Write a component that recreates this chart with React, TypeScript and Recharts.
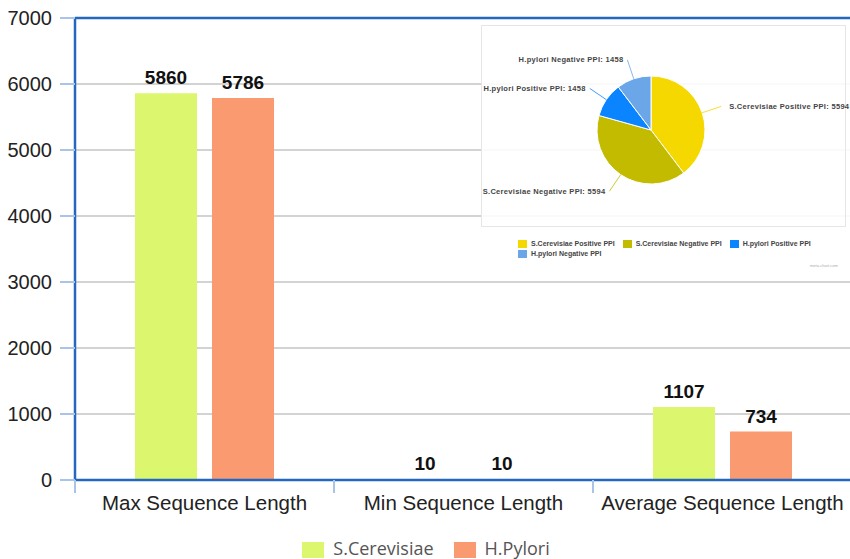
import React from 'react';
import {
  BarChart,
  Bar,
  XAxis,
  YAxis,
  CartesianGrid,
  ReferenceLine,
  LabelList,
  Legend,
  PieChart,
  Pie,
  Cell,
} from 'recharts';

// Bar chart data
const categories = ['Max Sequence Length', 'Min Sequence Length', 'Average Sequence Length'];
const cerevisiaeValues = [5860, 10, 1107];
const pyloriValues = [5786, 10, 734];
const yTicks = [0, 1000, 2000, 3000, 4000, 5000, 6000, 7000];
const seriesNames = ['S.Cerevisiae', 'H.Pylori'];
const seriesColors = ['#DCF76E', '#F99A70'];

// Inset pie data
const pieNames = [
  'S.Cerevisiae Positive PPI',
  'S.Cerevisiae Negative PPI',
  'H.pylori Positive PPI',
  'H.pylori Negative PPI',
];
const pieValues = [5594, 5594, 1458, 1458];
const pieColors = ['#F5D800', '#C3BB00', '#0A84FF', '#6AA6E8'];

const barData = categories.map((name, i) => ({
  name,
  cer: cerevisiaeValues[i],
  pyl: pyloriValues[i],
}));
const pieData = pieNames.map((name, i) => ({ name, value: pieValues[i] }));

const FRAME_BLUE = '#2467C0';
const TICK_BLUE = '#A9C4E6';
const SANS = '"Liberation Sans", Arial, sans-serif';

const CategoryTick = (props: any) => {
  const { x, y, payload } = props;
  const half =
    payload.offset ?? (props.width ? props.width / (2 * categories.length) : 0);
  const left = payload.coordinate - half;
  return (
    <g>
      <line x1={left} x2={left} y1={y} y2={y + 13} stroke={TICK_BLUE} strokeWidth={2} />
      <text
        x={x}
        y={y + 30}
        textAnchor="middle"
        fontSize={20.5}
        fill="#222"
        fontFamily={SANS}
      >
        {payload.value}
      </text>
    </g>
  );
};

const MainLegend = () => (
  <div
    style={{
      display: 'flex',
      justifyContent: 'center',
      alignItems: 'flex-start',
      height: 34,
      paddingTop: 14,
      boxSizing: 'border-box',
      fontFamily: '"Open Sans", sans-serif',
      fontSize: 18,
      lineHeight: '18px',
      color: '#555',
    }}
  >
    {seriesNames.map((n, i) => (
      <div
        key={n}
        style={{ display: 'flex', alignItems: 'flex-start', marginRight: i === 0 ? 20 : 0 }}
      >
        <span
          style={{
            width: 22,
            height: 16,
            marginTop: 3,
            background: seriesColors[i],
            display: 'inline-block',
            marginRight: 9,
          }}
        />
        <span>{n}</span>
      </div>
    ))}
  </div>
);

const RAD = Math.PI / 180;
const renderPieLabel = (p: any) => {
  const { cx, cy, midAngle, outerRadius, index, value } = p;
  const cos = Math.cos(-midAngle * RAD);
  const sin = Math.sin(-midAngle * RAD);
  const sx = cx + outerRadius * cos;
  const sy = cy + outerRadius * sin;
  const ex = cx + (outerRadius + 20) * cos;
  const ey = cy + (outerRadius + 20) * sin;
  const right = cos >= 0;
  return (
    <g>
      <path
        d={`M${sx},${sy}L${ex},${ey}`}
        stroke={pieColors[index]}
        fill="none"
        strokeWidth={0.8}
      />
      <text
        x={ex + (right ? 8 : -4)}
        y={ey}
        textAnchor={right ? 'start' : 'end'}
        dominantBaseline="central"
        fontSize={7.5}
        fontWeight="bold"
        letterSpacing={0.3}
        fill="#444"
        fontFamily={SANS}
      >
        {`${pieNames[index]}: ${value}`}
      </text>
    </g>
  );
};

const PieLegend = () => (
  <div
    style={{
      display: 'flex',
      flexWrap: 'wrap',
      columnGap: 8,
      rowGap: 1,
      width: 310,
      fontFamily: SANS,
      fontSize: 7,
      fontWeight: 'bold',
      lineHeight: '9px',
      color: '#444',
    }}
  >
    {pieNames.map((n, i) => (
      <div key={n} style={{ display: 'flex', alignItems: 'center' }}>
        <span
          style={{
            width: 9,
            height: 8,
            background: pieColors[i],
            display: 'inline-block',
            marginRight: 4,
          }}
        />
        <span>{n}</span>
      </div>
    ))}
  </div>
);

export default function App() {
  return (
    <div
      style={{
        position: 'absolute',
        left: 0,
        top: 0,
        width: 850,
        height: 559,
        overflow: 'hidden',
        background: '#fff',
      }}
    >
      <BarChart
        width={860}
        height={559}
        data={barData}
        margin={{ top: 18, right: 8, left: 0, bottom: 0 }}
        barSize={62}
        barGap={15}
      >
        <CartesianGrid vertical={false} stroke="#c4c4c4" strokeWidth={1.5} />
        <XAxis
          dataKey="name"
          height={45}
          tickSize={0}
          tickMargin={0}
          interval={0}
          axisLine={{ stroke: FRAME_BLUE, strokeWidth: 2.5 }}
          tickLine={false}
          tick={<CategoryTick />}
        />
        <YAxis
          domain={[0, 7000]}
          ticks={yTicks}
          interval={0}
          width={75}
          tickSize={15}
          tickMargin={8}
          axisLine={{ stroke: FRAME_BLUE, strokeWidth: 2.5 }}
          tickLine={{ stroke: TICK_BLUE, strokeWidth: 2 }}
          tick={{ fontSize: 20, fill: '#222', fontFamily: SANS }}
        />
        <ReferenceLine y={7000} stroke={FRAME_BLUE} strokeWidth={2.5} />
        <Legend verticalAlign="bottom" content={<MainLegend />} />
        <Bar dataKey="cer" name={seriesNames[0]} fill={seriesColors[0]} isAnimationActive={false}>
          <LabelList
            dataKey="cer"
            position="top"
            offset={9}
            style={{ fontSize: 19, fontWeight: 'bold', fill: '#111', fontFamily: SANS }}
          />
        </Bar>
        <Bar dataKey="pyl" name={seriesNames[1]} fill={seriesColors[1]} isAnimationActive={false}>
          <LabelList
            dataKey="pyl"
            position="top"
            offset={9}
            style={{ fontSize: 19, fontWeight: 'bold', fill: '#111', fontFamily: SANS }}
          />
        </Bar>
      </BarChart>

      <div
        style={{
          position: 'absolute',
          left: 481,
          top: 25,
          width: 369,
          height: 250,
          background: 'rgba(255,255,255,0.88)',
        }}
      >
        <div
          style={{
            position: 'absolute',
            left: 0,
            top: 0,
            width: 365,
            height: 202,
            border: '1px solid #e6e6e6',
            boxSizing: 'border-box',
          }}
        />
        <PieChart width={369} height={250} margin={{ top: 0, right: 0, bottom: 0, left: 0 }}>
          <Pie
            data={pieData}
            dataKey="value"
            nameKey="name"
            cx={170}
            cy={105}
            outerRadius={54}
            startAngle={90}
            endAngle={-270}
            stroke="#fff"
            strokeWidth={1}
            label={renderPieLabel}
            labelLine={false}
            isAnimationActive={false}
          >
            {pieData.map((d, i) => (
              <Cell key={d.name} fill={pieColors[i]} />
            ))}
          </Pie>
          <Legend
            content={<PieLegend />}
            wrapperStyle={{ position: 'absolute', left: 37, top: 214, width: 310, bottom: 'auto' }}
          />
        </PieChart>
        <div
          style={{
            position: 'absolute',
            left: 329,
            top: 238,
            fontSize: 4,
            color: '#aaa',
            fontFamily: SANS,
          }}
        >
          meta-chart.com
        </div>
      </div>
    </div>
  );
}
